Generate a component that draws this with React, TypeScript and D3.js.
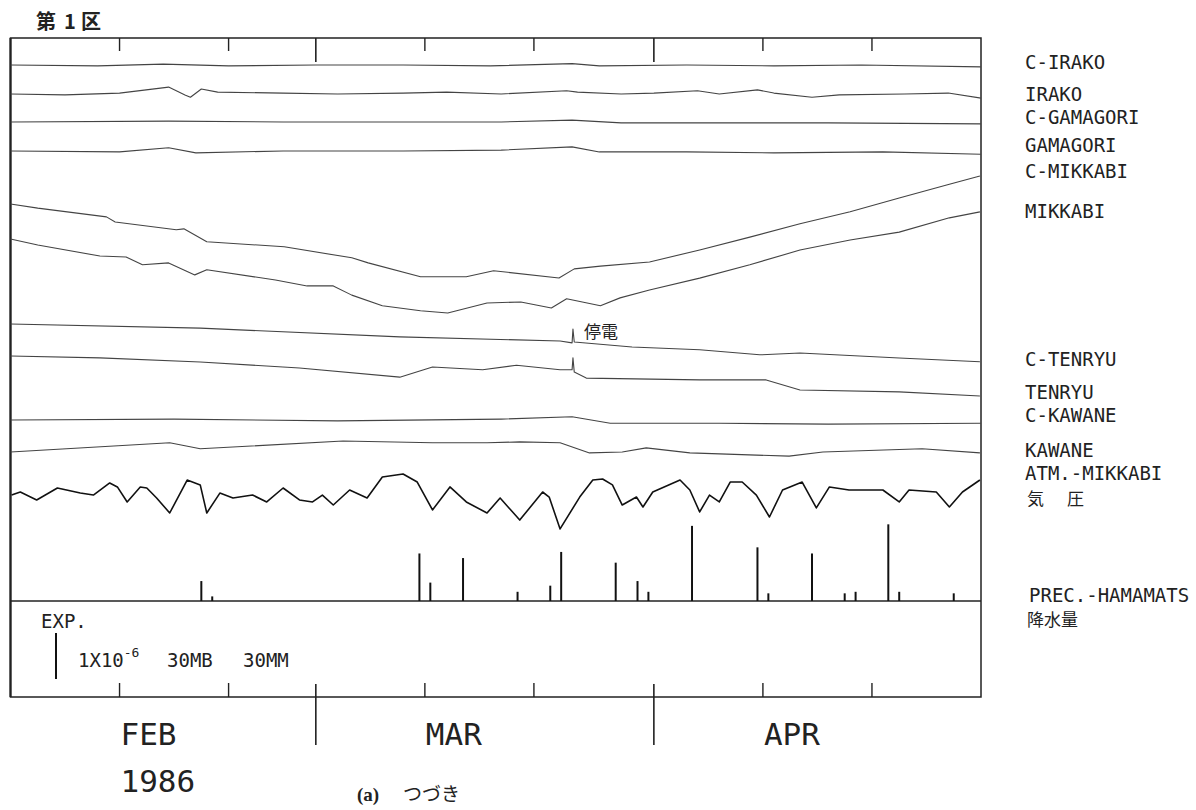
import React from "react";
import * as d3 from "d3";

// ---------- DATA ----------
const T0 = Date.UTC(1986, 1, 1); // Feb 1 1986
const dayToDate = (d: number) => new Date(T0 + d * 86400000);

const minorTicks = ["1986-02-11", "1986-02-21", "1986-03-11", "1986-03-21", "1986-04-11", "1986-04-21"];
const monthTicks = ["1986-03-01", "1986-04-01"];
const monthLabels = ["FEB", "MAR", "APR"];
const monthLabelAt = ["1986-02-11", "1986-03-11", "1986-04-11"];
const yearLabel = "1986";

const seriesNames = ["C-IRAKO", "IRAKO", "C-GAMAGORI", "GAMAGORI", "C-MIKKABI", "MIKKABI", "C-TENRYU", "TENRYU", "C-KAWANE", "KAWANE"];

// strain change, units of 1e-8, [day since Feb 1, value]
const cIrako = [[0, 0], [8, -2], [14, 2], [20, -2], [28, 0], [36, 0], [44, -2], [51.5, 3], [54, -2], [62, 0], [70, -2], [78, 0], [89, -4]];
const irako = [[0, 0], [5, -2], [10, 2], [14.5, 15], [16, -2], [16.5, -7], [17.5, 11], [19, 4], [25, 2], [30, 0], [36, 2], [40, 4], [45, 0], [51, 7], [52, 4], [56, 0], [59, 2], [63, 7], [65, 0], [68.5, 9], [70, 2], [73.5, -7], [76, -2], [82, 0], [86, 2], [89, -9]];
const cGamagori = [[0, 0], [14.5, 2], [25, 0], [36, 0], [45, 0], [51.5, 4], [56, -2], [65, -2], [75, -2], [89, -4]];
const gamagori = [[0, 0], [10, -2], [14.5, 7], [17, -4], [25, 0], [36, 0], [45, 2], [51.5, 9], [54, -2], [62, -2], [70, -4], [80, -2], [89, -7]];
const cMikkabi = [[0, 0], [2.5, -9], [8.8, -28], [9.6, -39], [15.2, -56], [15.9, -54], [18, -82], [25.1, -93], [31.3, -117], [32.8, -128], [37.6, -158], [41.8, -158], [44.3, -145], [50.3, -161], [51.7, -141], [54.1, -135], [58.6, -126], [63.2, -100], [67.8, -72], [72.4, -43], [77, -17], [81.5, 13], [86.1, 43], [88.9, 61]];
const mikkabi = [[0, 0], [2.5, -13], [8.2, -37], [10.6, -39], [12.1, -56], [14.5, -52], [16.9, -78], [18, -67], [24.3, -89], [27.2, -102], [29.6, -102], [31.3, -122], [34.1, -145], [37.6, -156], [40.1, -161], [43.7, -139], [46.8, -137], [49.6, -150], [51, -130], [54.1, -145], [55.9, -128], [58.6, -111], [63.2, -85], [67.8, -56], [72.4, -24], [77, -2], [81.5, 15], [86.1, 46], [88.9, 59]];
const cTenryu = [[0, 0], [17.4, -9], [35.7, -28], [50.4, -37], [51.5, -41], [51.58, -11], [51.7, -39], [57, -50], [63.2, -56], [68.7, -67], [72.4, -63], [81.5, -74], [88.9, -82]];
const tenryu = [[0, 0], [8.2, -4], [17.4, -13], [26.5, -26], [35.7, -46], [38.7, -24], [43.3, -30], [46.4, -20], [50.4, -30], [51.5, -30], [51.58, -4], [51.7, -35], [52.8, -48], [63.2, -52], [69.3, -52], [72.4, -74], [81.5, -78], [88.9, -87]];
const cKawane = [[0, 0], [15, 2], [30, -2], [45, 2], [51.5, 7], [55, -7], [65, -7], [75, -9], [89, -7]];
const kawane = [[0, 0], [14.6, 20], [17.4, 7], [30.5, 24], [38.7, 20], [43.7, 20], [46.7, 22], [50.4, 20], [53.1, -2], [56.1, 0], [58.3, 9], [62.3, -2], [71.4, -9], [74.5, 0], [83.6, 7], [88.9, -2]];
const strainSeries = [cIrako, irako, cGamagori, gamagori, cMikkabi, mikkabi, cTenryu, tenryu, cKawane, kawane];

// atmospheric pressure at Mikkabi (mb)
const atmDay = [0.1, 0.9, 2.4, 4.3, 6.4, 7.6, 9.1, 9.8, 10.7, 11.9, 12.5, 13.4, 14.6, 16.2, 17.4, 18.0, 19.2, 20.4, 22.2, 23.5, 25.0, 26.5, 27.7, 28.6, 29.6, 31.1, 32.7, 34.1, 36.0, 37.3, 38.7, 40.3, 41.8, 43.7, 44.9, 46.7, 48.8, 49.4, 50.4, 52.2, 53.4, 54.3, 55.2, 56.1, 57.4, 58.0, 58.9, 61.4, 62.3, 63.2, 64.1, 65.0, 66.0, 67.1, 68.4, 69.6, 70.8, 72.6, 73.9, 75.1, 76.9, 80.0, 81.5, 82.4, 84.9, 86.1, 87.3, 88.9];
const atmMb = [1021.7, 1023.7, 1018.5, 1026.3, 1023.0, 1021.7, 1029.6, 1027.0, 1017.2, 1027.0, 1026.3, 1019.8, 1010.0, 1031.5, 1028.3, 1010.0, 1023.0, 1019.8, 1021.7, 1017.2, 1026.3, 1018.5, 1017.2, 1021.7, 1015.2, 1025.0, 1019.8, 1033.5, 1035.4, 1030.2, 1012.0, 1027.0, 1017.2, 1010.0, 1019.8, 1005.4, 1023.7, 1020.4, 999.6, 1020.4, 1031.5, 1032.2, 1028.3, 1015.2, 1020.4, 1013.9, 1023.7, 1031.5, 1025.0, 1010.7, 1021.7, 1017.2, 1030.2, 1030.2, 1021.7, 1007.4, 1025.0, 1030.2, 1013.3, 1027.0, 1025.0, 1025.0, 1017.2, 1025.0, 1023.7, 1013.9, 1023.7, 1031.5];

// daily precipitation at Hamamatsu (mm), day index since Feb 1
const precipDay = [17, 18, 37, 38, 41, 46, 49, 50, 55, 57, 58, 62, 68, 69, 73, 76, 77, 80, 81, 86];
const precipMm = [13, 3, 31, 12, 28, 6, 10, 32, 25, 13, 6, 49, 35, 5, 31, 5, 6, 50, 6, 5];

// ---------- LAYOUT ----------
const L = 10.5, R = 981, TOP = 38, MID = 601, BOT = 697;
const SCALE_PX = 46; // length of 1x10^-6 / 30MB / 30MM bar
const baseY = [65, 94, 122, 151, 204, 239, 324, 356, 420, 452];
const labelY = [69, 100.5, 123.5, 152, 178, 218, 366, 398.5, 421.5, 457];
const LABEL_X = 1025;

const x = d3.scaleUtc().domain([new Date(T0), new Date(Date.UTC(1986, 4, 1))]).range([L, R]);
const strainY = baseY.map((b) => d3.scaleLinear().domain([0, 100]).range([b, b - SCALE_PX]));
const atmY = d3.scaleLinear().domain([1010, 1040]).range([513, 513 - SCALE_PX]);
const precY = d3.scaleLinear().domain([0, 30]).range([MID, MID - SCALE_PX]);
const parse = (s: string) => new Date(s + "T00:00:00Z");

const monoFont = "'DejaVu Sans Mono', monospace";
const cjkFont = "'Noto Sans CJK JP', sans-serif";

export default function App() {
  const strainPaths = strainSeries.map((s, i) =>
    d3.line<number[]>().x((d) => x(dayToDate(d[0]))).y((d) => strainY[i](d[1]))(s as number[][]) || ""
  );
  const atmPts = atmDay.map((d, i) => [d, atmMb[i]]);
  const atmPath = d3.line<number[]>().x((d) => x(dayToDate(d[0]))).y((d) => atmY(d[1]))(atmPts) || "";

  return (
    <svg width={1196} height={810} style={{ display: "block", position: "absolute", left: 0, top: 0, background: "#fff" }}>
      <rect x={0} y={0} width={1196} height={810} fill="#fff" />
      {/* title */}
      <text y={29} fontFamily={cjkFont} fontSize={20} fontWeight={600} fill="#222">
        <tspan x={36}>第</tspan>
        <tspan x={64}>1</tspan>
        <tspan x={81}>区</tspan>
      </text>

      {/* frame */}
      <g stroke="#222" fill="none">
        <rect x={L} y={TOP} width={R - L} height={BOT - TOP} strokeWidth={1.5} />
        <line x1={L} x2={L} y1={TOP} y2={BOT} strokeWidth={2.2} />
        <line x1={L} x2={R} y1={MID} y2={MID} strokeWidth={1.5} />
        {minorTicks.map((t) => (
          <g key={t}>
            <line x1={x(parse(t))} x2={x(parse(t))} y1={TOP} y2={TOP + 13} strokeWidth={1.4} />
            <line x1={x(parse(t))} x2={x(parse(t))} y1={BOT} y2={BOT - 14} strokeWidth={1.4} />
          </g>
        ))}
        {monthTicks.map((t) => (
          <g key={t}>
            <line x1={x(parse(t))} x2={x(parse(t))} y1={TOP} y2={TOP + 24} strokeWidth={1.6} />
            <line x1={x(parse(t))} x2={x(parse(t))} y1={BOT - 13} y2={BOT + 48} strokeWidth={1.6} />
          </g>
        ))}
      </g>

      {/* strain traces */}
      <g fill="none" stroke="#444" strokeWidth={1.1} strokeLinejoin="round">
        {strainPaths.map((p, i) => (
          <path key={i} d={p} />
        ))}
      </g>
      {/* pressure */}
      <path d={atmPath} fill="none" stroke="#111" strokeWidth={1.6} strokeLinejoin="round" />
      {/* precipitation */}
      <g stroke="#111" strokeWidth={2}>
        {precipDay.map((d, i) => (
          <line key={i} x1={x(dayToDate(d + 0.5))} x2={x(dayToDate(d + 0.5))} y1={MID} y2={precY(precipMm[i])} />
        ))}
      </g>

      {/* outage annotation */}
      <text x={584} y={338} fontFamily={cjkFont} fontSize={17} fill="#222">停電</text>

      {/* right labels */}
      <g fontFamily={monoFont} fontSize={19} fill="#222">
        {seriesNames.map((n, i) => (
          <text key={n} x={LABEL_X} y={labelY[i]}>{n}</text>
        ))}
        <text x={LABEL_X} y={480}>ATM.-MIKKABI</text>
        <text x={LABEL_X + 4} y={602}>PREC.-HAMAMATS</text>
      </g>
      <g fontFamily={cjkFont} fontSize={17} fill="#222">
        <text y={505}>
          <tspan x={LABEL_X + 2}>気</tspan>
          <tspan x={LABEL_X + 42}>圧</tspan>
        </text>
        <text x={LABEL_X + 2} y={626}>降水量</text>
      </g>

      {/* scale legend */}
      <g fontFamily={monoFont} fontSize={19} fill="#222">
        <text x={41} y={628}>EXP.</text>
        <text x={78} y={667}>
          1X10<tspan fontSize={13} dy={-10}>-6</tspan>
        </text>
        <text x={167} y={667}>30MB</text>
        <text x={243} y={667}>30MM</text>
      </g>
      <line x1={56} x2={56} y1={633} y2={633 + SCALE_PX} stroke="#111" strokeWidth={2} />

      {/* month labels */}
      <g fontFamily={monoFont} fontSize={31} fill="#222">
        {monthLabels.map((m, i) => (
          <text key={m} x={x(parse(monthLabelAt[i])) + 1} y={745}>{m}</text>
        ))}
        <text x={x(parse(monthLabelAt[0])) + 1} y={792}>{yearLabel}</text>
      </g>
      <text y={801} fontSize={19} fill="#222">
        <tspan x={357} fontFamily="'Liberation Serif', serif" fontWeight={700}>(a)</tspan>
        <tspan x={403} fontFamily={cjkFont}>つづき</tspan>
      </text>
    </svg>
  );
}
